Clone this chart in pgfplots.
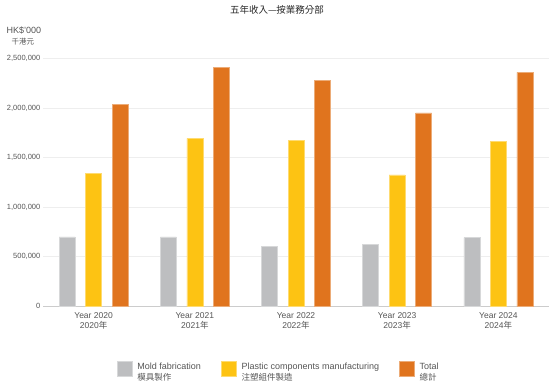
\documentclass[border=0pt]{standalone}
\usepackage{pgfplots}
\pgfplotsset{compat=1.18}
\usepackage{fontspec}
\setmainfont{Liberation Sans}
\newfontfamily\cjk{Noto Sans CJK TC}
\definecolor{cgray}{HTML}{BDBEC0}
\definecolor{cyel}{HTML}{FDC313}
\definecolor{corg}{HTML}{E0741E}
\definecolor{txt}{HTML}{555555}
\definecolor{gridc}{HTML}{EEEEEE}
\definecolor{axc}{HTML}{CCCCCC}
\begin{document}
\begin{tikzpicture}[x=1pt,y=1pt]
\useasboundingbox (0,0) rectangle (554,387);
\begin{axis}[
  at={(43pt,80.7pt)}, anchor=south west,
  scale only axis, width=506pt, height=248pt,
  ybar=10.5pt, bar width=16pt,
  xmin=-0.5, xmax=4.5, ymin=0, ymax=2500000,
  ytick={0,500000,1000000,1500000,2000000,2500000},
  scaled y ticks=false,
  /pgf/number format/fixed,
  /pgf/number format/1000 sep={,},
  /pgf/number format/assume math mode=true,
  xtick={0,1,2,3,4},
  xticklabels={{Year 2020\\2020{\cjk 年}},{Year 2021\\2021{\cjk 年}},{Year 2022\\2022{\cjk 年}},{Year 2023\\2023{\cjk 年}},{Year 2024\\2024{\cjk 年}}},
  ymajorgrids, grid style={draw=gridc, line width=0.6pt},
  axis x line*=bottom, axis y line*=left,
  y axis line style={draw=none},
  x axis line style={draw=axc, line width=0.8pt},
  major tick length=0pt,
  tick label style={text=txt},
  yticklabel style={font=\fontsize{7.5}{9}\selectfont, inner sep=0pt, xshift=-2.5pt},
  xticklabel style={align=center, font=\fontsize{8.5}{10}\selectfont, inner sep=0pt, yshift=-6pt},
  legend columns=3,
  legend style={draw=none, fill=none, at={(0.466,-0.253)}, anchor=center,
    font=\fontsize{9}{11}\selectfont, text=txt,
    /tikz/every odd column/.append style={column sep=3pt},
    /tikz/every even column/.append style={column sep=18pt}},
  legend image code/.code={\fill[#1] (0pt,-7.5pt) rectangle (15pt,7.5pt);},
]
\addplot[fill=cgray, draw=cgray!60!white, line width=0.5pt] coordinates {(0,700000) (1,700000) (2,601000) (3,625000) (4,692000)};
\addlegendentry{\begin{tabular}{@{}l@{}}Mold fabrication\\{\cjk\fontsize{8.5}{10}\selectfont 模具製作}\end{tabular}}
\addplot[fill=cyel, draw=cyel!60!white, line width=0.5pt] coordinates {(0,1341000) (1,1694000) (2,1673000) (3,1324000) (4,1660000)};
\addlegendentry{\begin{tabular}{@{}l@{}}Plastic components manufacturing\\{\cjk\fontsize{8.5}{10}\selectfont 注塑組件製造}\end{tabular}}
\addplot[fill=corg, draw=corg!60!white, line width=0.5pt] coordinates {(0,2036000) (1,2405000) (2,2278000) (3,1949000) (4,2359000)};
\addlegendentry{\begin{tabular}{@{}l@{}}Total\\{\cjk\fontsize{8.5}{10}\selectfont 總計}\end{tabular}}
\end{axis}
\node[text=black!85, font=\cjk\fontsize{9.5}{11}\selectfont] at (277,377.5) {五年收入—按業務分部};
\node[text=txt, font=\fontsize{9}{11}\selectfont] at (24,357) {HK\$'000};
\node[text=txt, font=\cjk\fontsize{7.5}{9}\selectfont] at (23,345) {千港元};
\end{tikzpicture}
\end{document}
